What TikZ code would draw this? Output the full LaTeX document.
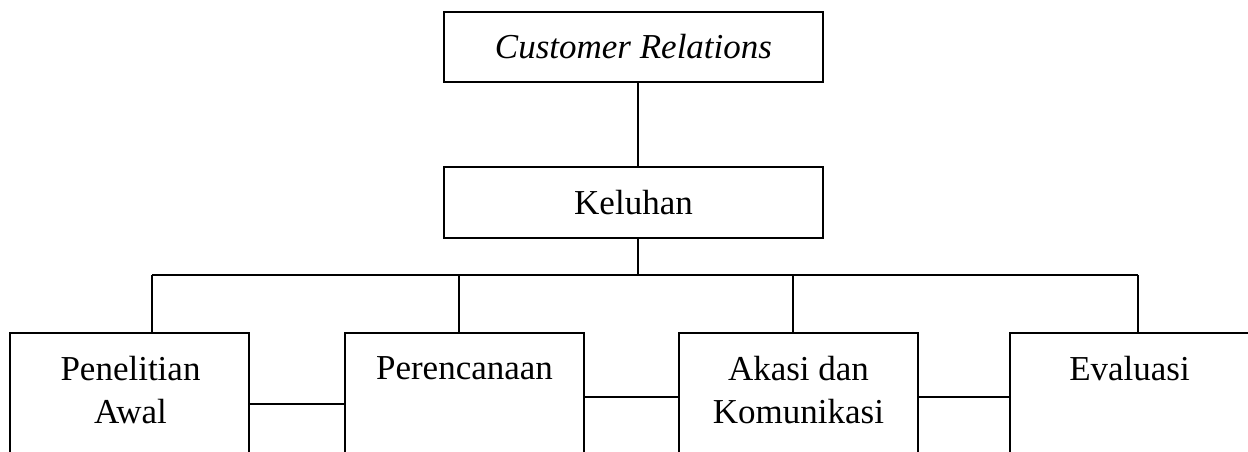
\documentclass[tikz,border=0pt]{standalone}
\usepackage{fontspec}
\setmainfont{Liberation Serif}
\usetikzlibrary{calc}
\tikzset{
  txt/.style={font=\fontsize{35}{43}\selectfont},
  box/.style={draw, line width=2pt, rectangle, inner sep=0pt, txt},
  tallbox/.style={box, anchor=north west, minimum width=239pt, minimum height=160pt},
  lbl/.style={txt, align=center, anchor=north, inner sep=0pt},
  conn/.style={line width=2pt},
}
\begin{document}
\begin{tikzpicture}[x=1pt,y=1pt]
\clip (0,0) rectangle (1248,-451);
\fill[white] (0,0) rectangle (1248,-451);
% top boxes
\node[box, anchor=north west, minimum width=379pt, minimum height=70pt] (cr) at (443,-11) {\itshape Customer Relations};
\node[box, anchor=north west, minimum width=379pt, minimum height=71pt] (kel) at (443,-166) {Keluhan};
% bottom boxes
\node[tallbox] (pa) at (9,-332) {};
\node[tallbox] (pe) at (344,-332) {};
\node[tallbox] (ak) at (678,-332) {};
\node[tallbox] (ev) at (1009,-332) {};
\node[lbl] (paT) at ($(pa.north)+(1,-24)$) {Penelitian\\Awal};
\node[lbl] (peT) at ($(pe.north)+(0,-24)$) {Perencanaan};
\node[lbl] (akT) at ($(ak.north)+(0,-24)$) {Akasi dan\\Komunikasi};
\node[lbl] (evT) at ($(ev.north)+(0,-24)$) {Evaluasi};
% trunk
\coordinate (trunk) at (638,-275);
\coordinate (b1) at (152,-275);
\coordinate (b2) at (459,-275);
\coordinate (b3) at (793,-275);
\coordinate (b4) at (1138,-275);
\draw[conn] (cr.south -| trunk) -- (kel.north -| trunk);
\draw[conn] (kel.south -| trunk) -- (trunk);
\draw[conn] (b1) -- (b4);
\draw[conn] (b1) -- (b1 |- pa.north);
\draw[conn] (b2) -- (b2 |- pe.north);
\draw[conn] (b3) -- (b3 |- ak.north);
\draw[conn] (b4) -- (b4 |- ev.north);
% side connectors
\draw[conn] ($(pa.north east)+(0,-72)$) -- ($(pe.north west)+(0,-72)$);
\draw[conn] ($(pe.north east)+(0,-65)$) -- ($(ak.north west)+(0,-65)$);
\draw[conn] ($(ak.north east)+(0,-65)$) -- ($(ev.north west)+(0,-65)$);
\end{tikzpicture}
\end{document}
